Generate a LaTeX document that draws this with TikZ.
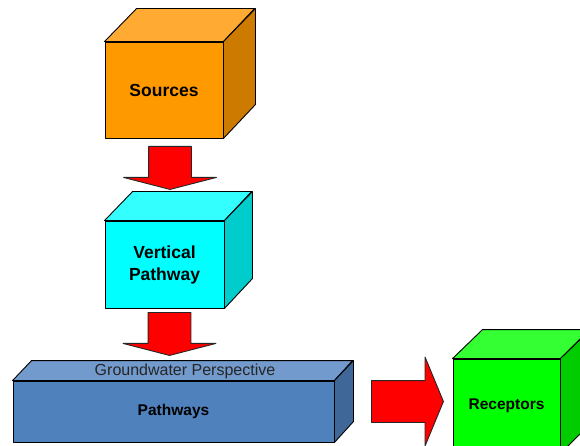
\documentclass[tikz,border=0pt]{standalone}
\usepackage{fontspec}
\setmainfont{Liberation Sans}
\usetikzlibrary{shapes.arrows}

\definecolor{srcfront}{HTML}{FF9900}
\definecolor{srctop}{HTML}{FFAA33}
\definecolor{srcside}{HTML}{CC7A00}
\definecolor{vertfront}{HTML}{00FFFF}
\definecolor{verttop}{HTML}{33FFFF}
\definecolor{vertside}{HTML}{00CCCC}
\definecolor{gwfront}{HTML}{4F81BD}
\definecolor{gwtop}{HTML}{729ACC}
\definecolor{gwside}{HTML}{3F6797}
\definecolor{recfront}{HTML}{00FF00}
\definecolor{rectop}{HTML}{33FF33}
\definecolor{recside}{HTML}{00CC00}

\begin{document}
\begin{tikzpicture}[x=1pt,y=-1pt,line width=0.9pt,line join=round,
  front/.style={draw,inner sep=0pt,align=center,font=\bfseries\fontsize{17.5}{22}\selectfont},
  face/.style={draw},
  redarrow/.style={single arrow,draw=black!85,fill=red,
    single arrow head extend=25pt,single arrow tip angle=151,anchor=tail},
  downarrow/.style={redarrow,shape border rotate=270,inner xsep=21pt,inner ysep=0pt,minimum height=43pt}]
\useasboundingbox (0,0) rectangle (580,446);
\clip (0,0) rectangle (580,446);
% sources
\node[front,fill=srcfront,minimum width=118pt,minimum height=96pt] (src) at (164,90) {Sources};
\filldraw[face,fill=srctop] (src.north west) -- ++(32,-33) -- ++(118,0) -- (src.north east) -- cycle;
\filldraw[face,fill=srcside] (src.north east) -- ++(32,-33) -- ++(0,96) -- (src.south east) -- cycle;
% vertical pathway
\node[front,fill=vertfront,minimum width=119pt,minimum height=87pt] (vert) at (164.5,264.5) {Vertical\\Pathway};
\filldraw[face,fill=verttop] (vert.north west) -- ++(28,-29) -- ++(119,0) -- (vert.north east) -- cycle;
\filldraw[face,fill=vertside] (vert.north east) -- ++(28,-29) -- ++(0,87) -- (vert.south east) -- cycle;
% groundwater pathways
\node[front,fill=gwfront,minimum width=321pt,minimum height=61pt,font=\bfseries\fontsize{15.5}{19}\selectfont] (gw) at (173.5,411.5) {Pathways};
\filldraw[face,fill=gwtop] (gw.north west) -- ++(19,-20) -- ++(321,0) -- (gw.north east) -- cycle;
\filldraw[face,fill=gwside] (gw.north east) -- ++(19,-20) -- ++(0,61) -- (gw.south east) -- cycle;
\node[font=\fontsize{16}{19}\selectfont,text=black!85] (gwlabel) at (185,371.5) {Groundwater Perspective};
% receptors
\node[front,fill=recfront,minimum width=107pt,minimum height=94pt,font=\bfseries\fontsize{15.5}{19}\selectfont] (rec) at (506.5,406) {Receptors};
\filldraw[face,fill=rectop] (rec.north west) -- ++(30,-29) -- ++(107,0) -- (rec.north east) -- cycle;
\filldraw[face,fill=recside] (rec.north east) -- ++(30,-29) -- ++(0,94) -- (rec.south east) -- cycle;
% arrows
\node[downarrow] (a1) at (170,146) {};
\node[downarrow] (a2) at (169.5,312) {};
\node[redarrow,minimum height=72pt,inner xsep=0pt,inner ysep=20.5pt,single arrow head extend=23.5pt,
  single arrow tip angle=135] (a3) at (371,401.5) {};
\end{tikzpicture}
\end{document}
